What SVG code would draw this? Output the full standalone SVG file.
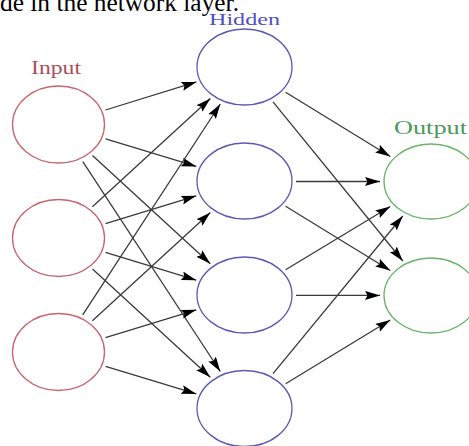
<svg xmlns="http://www.w3.org/2000/svg" width="469" height="446" viewBox="0 0 469 446">
<style>
.in{fill:none;stroke:#c8646e;stroke-width:1.3}
.hid{fill:none;stroke:#5a5ab4;stroke-width:1.3}
.out{fill:none;stroke:#6ab46a;stroke-width:1.3}
.lbl{font-family:"Liberation Serif","DejaVu Serif",serif}
#edges line{stroke:#3a3a3a;stroke-width:1.3;marker-end:url(#ah)}
</style>
<defs>
<marker id="ah" markerUnits="userSpaceOnUse" markerWidth="17" markerHeight="10" refX="15" refY="4.5" orient="auto">
<path d="M0,0 L15,4.5 L0,9 L2.5,4.5 z" fill="#000"/>
</marker>
</defs>
<rect width="469" height="446" fill="#fff"/>
<text x="0" y="11" class="lbl" font-size="25" fill="#000" textLength="239" lengthAdjust="spacingAndGlyphs">de in the network layer.</text>
<g id="edges">
<line x1="105.5" y1="110" x2="196.4" y2="81.9"/>
<line x1="105.6" y1="138.8" x2="196.3" y2="166.4"/>
<line x1="92.5" y1="155.6" x2="210.3" y2="263.7"/>
<line x1="82.8" y1="161.6" x2="220.3" y2="371.5"/>
<line x1="92.4" y1="206.8" x2="210.4" y2="98.4"/>
<line x1="105.5" y1="223.6" x2="196.3" y2="195.8"/>
<line x1="105.5" y1="252.4" x2="196.3" y2="280.2"/>
<line x1="92.5" y1="269.1" x2="210.3" y2="377.2"/>
<line x1="82.7" y1="314.9" x2="220.3" y2="104"/>
<line x1="92.4" y1="320.8" x2="210.4" y2="212.4"/>
<line x1="105.5" y1="337.6" x2="196.3" y2="309.8"/>
<line x1="105.6" y1="366.3" x2="196.3" y2="393.9"/>
<line x1="285.6" y1="92.2" x2="390.3" y2="156.5"/>
<line x1="273" y1="101.9" x2="402.8" y2="261"/>
<line x1="296" y1="181.5" x2="380" y2="181.5"/>
<line x1="285.6" y1="206.2" x2="390.3" y2="270.5"/>
<line x1="285.6" y1="269.8" x2="390.3" y2="206.5"/>
<line x1="296" y1="295.4" x2="380" y2="295.4"/>
<line x1="273" y1="373.6" x2="402.8" y2="216"/>
<line x1="285.6" y1="383.8" x2="390.3" y2="320"/>
</g>
<g id="label-input"><text x="31" y="74" class="lbl" font-size="18" fill="#a85058" textLength="50" lengthAdjust="spacingAndGlyphs">Input</text></g>
<g id="label-hidden"><text x="209" y="25" class="lbl" font-size="17" fill="#5050c0" textLength="71" lengthAdjust="spacingAndGlyphs">Hidden</text></g>
<g id="label-output"><text x="394" y="134" class="lbl" font-size="18" fill="#4a9a5a" textLength="73" lengthAdjust="spacingAndGlyphs">Output</text></g>
<g id="input1"><ellipse class="in" cx="58.5" cy="124.5" rx="46" ry="38.5"/></g>
<g id="input2"><ellipse class="in" cx="58.5" cy="238" rx="46" ry="38.5"/></g>
<g id="input3"><ellipse class="in" cx="58.5" cy="352" rx="46" ry="38.5"/></g>
<g id="hidden1"><ellipse class="hid" cx="244.5" cy="67" rx="47.5" ry="38"/></g>
<g id="hidden2"><ellipse class="hid" cx="244.5" cy="181" rx="47.5" ry="38"/></g>
<g id="hidden3"><ellipse class="hid" cx="244.5" cy="295" rx="47.5" ry="38"/></g>
<g id="hidden4"><ellipse class="hid" cx="244.5" cy="408.5" rx="47.5" ry="38"/></g>
<g id="output1"><ellipse class="out" cx="431" cy="181.5" rx="47" ry="37.5"/></g>
<g id="output2"><ellipse class="out" cx="431" cy="295.5" rx="47" ry="37.5"/></g>
</svg>
